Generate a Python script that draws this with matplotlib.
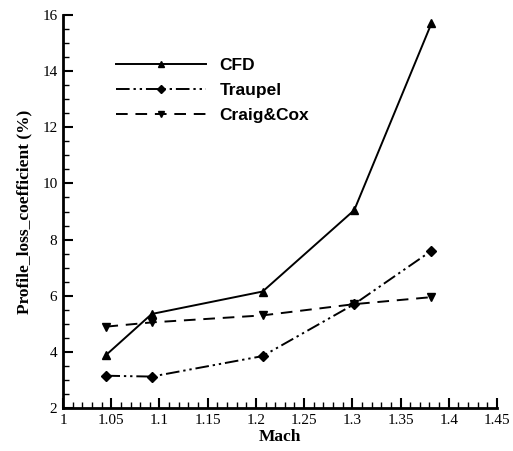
import matplotlib
matplotlib.use("Agg")
from matplotlib import pyplot as plt
from matplotlib.ticker import MultipleLocator

# values
mach = [1.045, 1.092, 1.207, 1.302, 1.382]
cfd = [3.9, 5.35, 6.15, 9.05, 15.7]
traupel = [3.15, 3.12, 3.85, 5.7, 7.6]
craig_cox = [4.9, 5.05, 5.3, 5.7, 5.95]

fig = plt.figure(figsize=(5.13, 4.51), dpi=100)
ax = fig.add_axes([0.1228, 0.0953, 0.846, 0.8714])

ax.plot(mach, cfd, color='black', lw=1.4, marker='^', ms=6, label='CFD')
ax.plot(mach, traupel, color='black', lw=1.4, ls=(0, (7, 2, 1.2, 2, 1.2, 2)),
        marker='D', ms=5.5, label='Traupel')
ax.plot(mach, craig_cox, color='black', lw=1.4, ls=(0, (6, 4)),
        marker='v', ms=6, label='Craig&Cox')

ax.set_xlim(1, 1.45)
ax.set_ylim(2, 16)
ax.xaxis.set_major_locator(MultipleLocator(0.05))
ax.xaxis.set_minor_locator(MultipleLocator(0.01))
ax.yaxis.set_major_locator(MultipleLocator(2))
ax.yaxis.set_minor_locator(MultipleLocator(0.5))
ax.set_xticks([1, 1.05, 1.1, 1.15, 1.2, 1.25, 1.3, 1.35, 1.4, 1.45])
ax.set_xticklabels(['1', '1.05', '1.1', '1.15', '1.2', '1.25', '1.3', '1.35', '1.4', '1.45'])

for s in ['top', 'right']:
    ax.spines[s].set_visible(False)
for s in ['left', 'bottom']:
    ax.spines[s].set_linewidth(2)

ax.tick_params(which='major', direction='in', length=7, width=1.5, labelsize=11, pad=4)
ax.tick_params(which='minor', direction='in', length=4, width=1)
for lab in ax.get_xticklabels() + ax.get_yticklabels():
    lab.set_family('Liberation Serif')

ax.set_xlabel('Mach', family='Liberation Serif', fontweight='bold', fontsize=12.5, labelpad=2)
ax.set_ylabel('Profile_loss_coefficient (%)', family='Liberation Serif', fontweight='bold',
              fontsize=12.5, labelpad=7)

leg = ax.legend(loc='upper left', bbox_to_anchor=(0.085, 0.93), frameon=False,
                handlelength=5.2, handletextpad=0.8, labelspacing=0.55, markerscale=0.8,
                prop={'family': 'Liberation Sans', 'weight': 'bold', 'size': 12.5})

fig.savefig('out.png', dpi=100)
